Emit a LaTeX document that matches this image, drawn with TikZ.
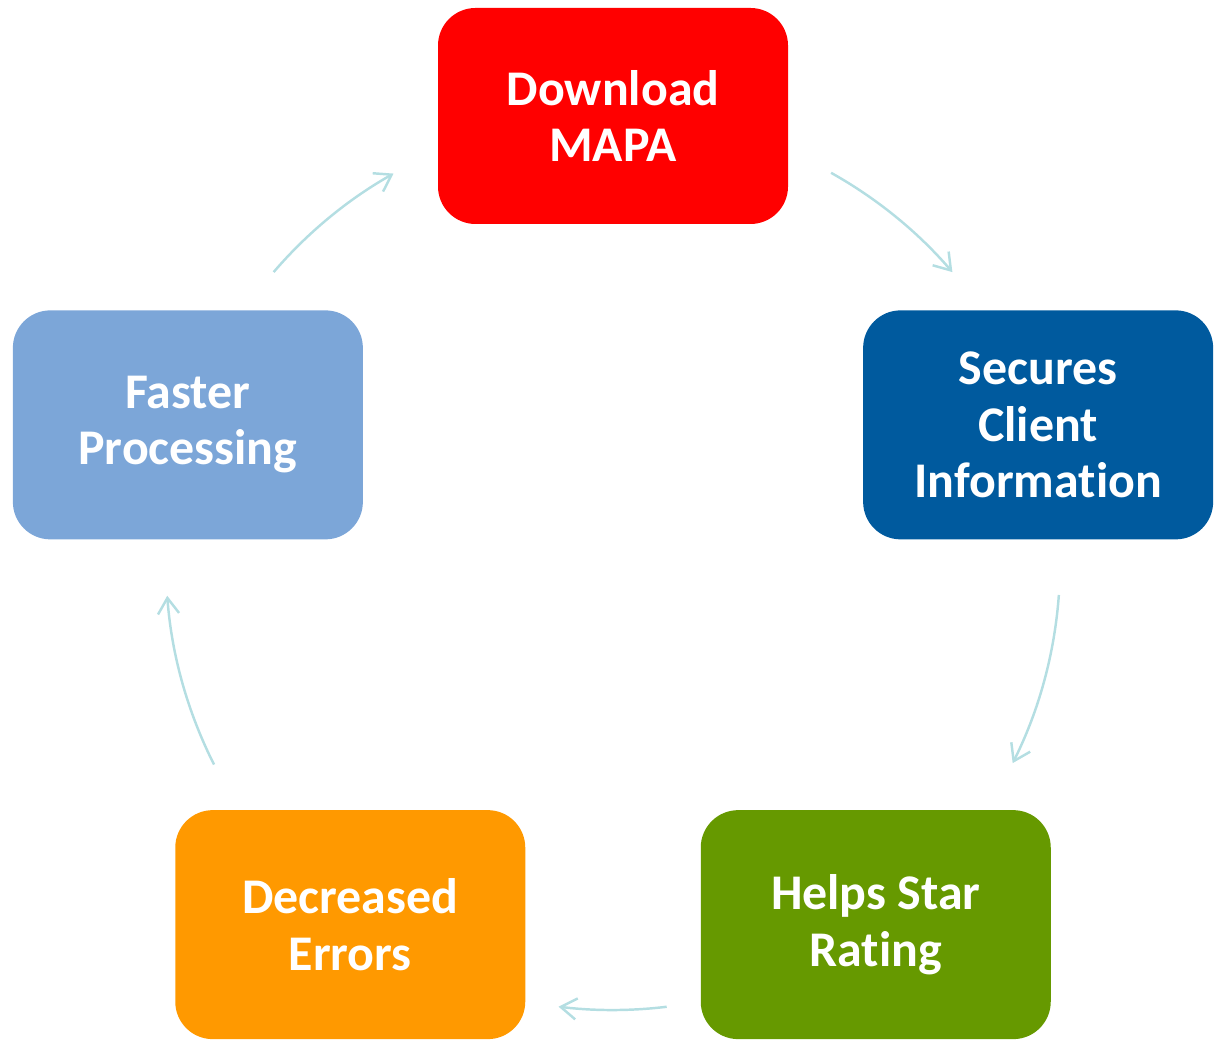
\documentclass[tikz,border=0pt]{standalone}
\usepackage{fontspec}
\setmainfont[Ligatures=NoCommon]{Carlito}
\usepackage{tikz}
\usetikzlibrary{positioning, arrows.meta, calc}
\definecolor{mapared}{RGB}{255,0,0}
\definecolor{mapablue}{RGB}{0,90,158}
\definecolor{mapasky}{RGB}{124,166,216}
\definecolor{mapagreen}{RGB}{102,153,0}
\definecolor{mapaorange}{RGB}{255,153,0}
\definecolor{cyclecyan}{RGB}{180,222,226}

\begin{document}
\begin{tikzpicture}[
  every node/.style={font=\fontsize{28.4}{32}\selectfont\bfseries},
  phase/.style={
    rounded corners=0.75cm, text=white,
    minimum width=7cm, minimum height=4.58cm,
    align=center, inner sep=0pt
  },
  cyclearrow/.style={-{Straight Barb[length=9pt,width=12pt,line width=1.4pt]},
    line width=1.4pt, color=cyclecyan},
]
\useasboundingbox (0,0) rectangle (24.4,20.84);
\def\R{8.94}
\coordinate (ctr) at (12.26,9.58);

% Stages
\node[phase, fill=mapared, minimum height=4.32cm] (dl) at ($(ctr)+(90:\R)$) {Download\\MAPA};
\node[phase, fill=mapablue] (sc) at ($(ctr)+(18:\R)$) {Secures\\Client\\Information};
\node[phase, fill=mapagreen] (hs) at ($(ctr)+(-54:\R)$) {Helps Star\\Rating};
\node[phase, fill=mapaorange] (de) at ($(ctr)+(-126:\R)$) {Decreased\\Errors};
\node[phase, fill=mapasky] (fp) at ($(ctr)+(162:\R)$) {Faster\\Processing};

% Cycle arrows
\draw[cyclearrow] (ctr) ++(60.8:\R) arc[start angle=60.8, end angle=40.6, radius=\R];
\draw[cyclearrow] (ctr) ++(-4.1:\R) arc[start angle=-4.1, end angle=-26.6, radius=\R];
\draw[cyclearrow] (ctr) ++(-83.1:\R) arc[start angle=-83.1, end angle=-97, radius=\R];
\draw[cyclearrow] (ctr) ++(-153.2:\R) arc[start angle=-153.2, end angle=-175.8, radius=\R];
\draw[cyclearrow] (ctr) ++(139.4:\R) arc[start angle=139.4, end angle=119.4, radius=\R];

\end{tikzpicture}
\end{document}
